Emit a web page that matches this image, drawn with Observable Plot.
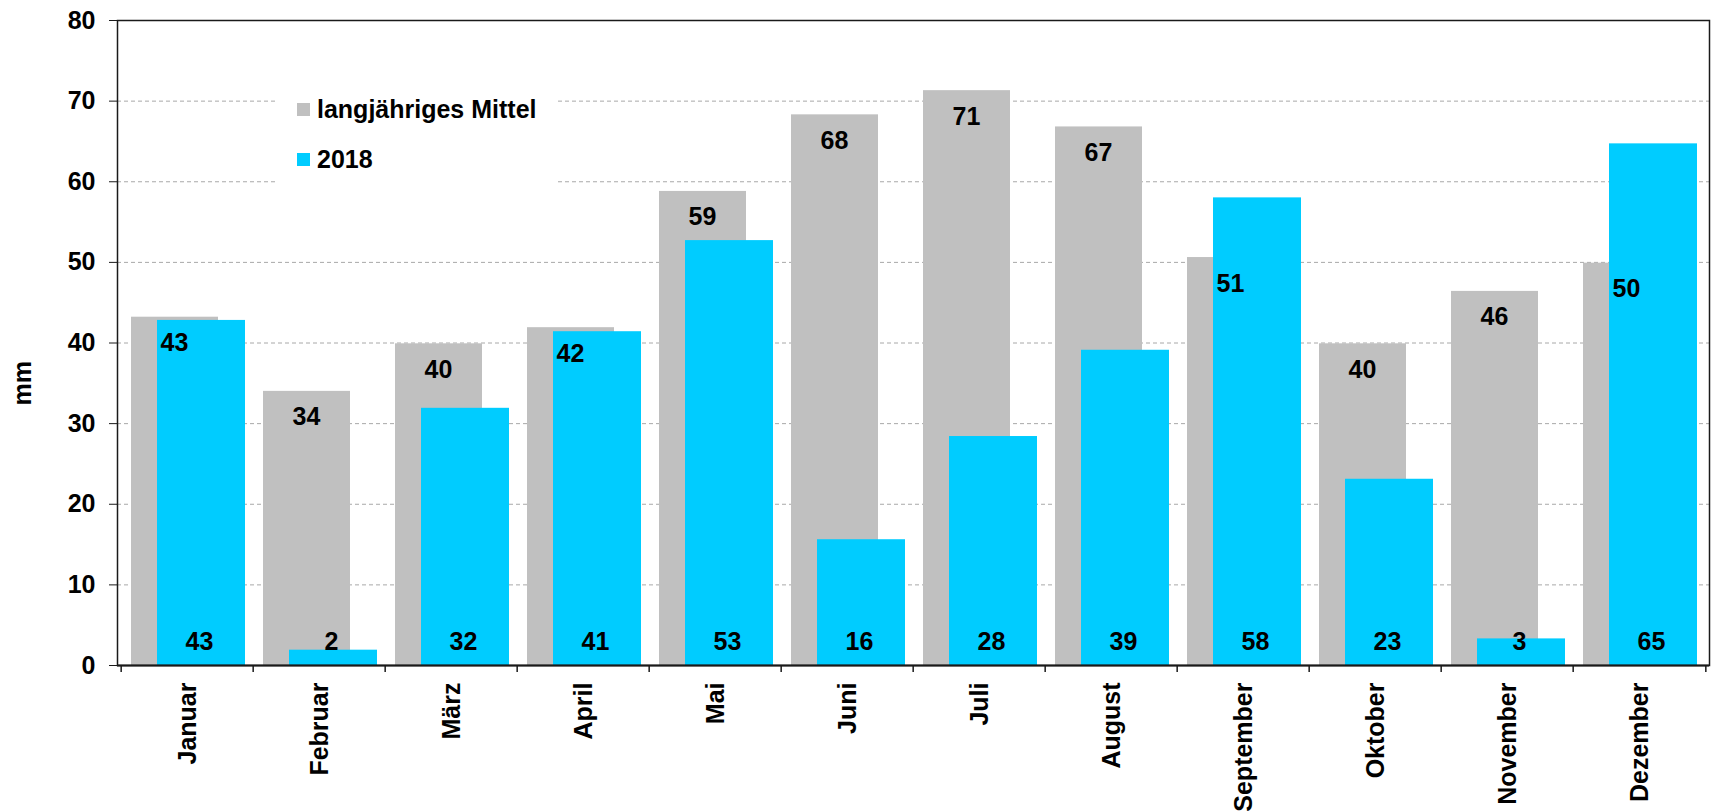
<!DOCTYPE html>
<html>
<head>
<meta charset="utf-8">
<script src="https://cdn.jsdelivr.net/npm/d3@7"></script>
<script src="https://cdn.jsdelivr.net/npm/@observablehq/plot@0.6"></script>
<style>
  html, body { margin: 0; padding: 0; background: #fff; }
  #wrap { position: relative; width: 1713px; height: 812px; font-family: "Liberation Sans", Arial, sans-serif; }
  #legend { position: absolute; left: 277px; top: 88px; width: 280px; height: 100px; background: #fff;
            font-family: "Liberation Sans", Arial, sans-serif; font-weight: bold; font-size: 25px; color: #000; }
  .item { position: absolute; left: 20px; height: 28px; display: flex; align-items: center; white-space: nowrap; }
  .sw { width: 13px; height: 13px; margin-right: 7px; flex: none; }
</style>
</head>
<body>
<div id="wrap"></div>
<script>
const months = ["Januar","Februar","März","April","Mai","Juni","Juli","August","September","Oktober","November","Dezember"];
const meanValues = [43.2, 34.0, 39.9, 41.9, 58.8, 68.3, 71.3, 66.8, 50.6, 39.9, 46.4, 49.9];
const values2018 = [42.8, 1.9, 31.9, 41.4, 52.7, 15.6, 28.4, 39.1, 58.0, 23.1, 3.3, 64.7];
const seriesNames = ["langjähriges Mittel", "2018"];
const seriesColors = ["#c0c0c0", "#00ccff"];
const yTicks = [0, 10, 20, 30, 40, 50, 60, 70, 80];
const gridTicks = [10, 20, 30, 40, 50, 60, 70];
const yLabel = "mm";

const meanData = months.map((m, i) => ({month: m, value: meanValues[i]}));
const data2018 = months.map((m, i) => ({month: m, value: values2018[i]}));

const W = 1713, H = 812, mL = 117, mR = 4, mT = 20, mB = 147;
const bw = (W - mL - mR) / months.length;
const font = "Liberation Sans, Arial, sans-serif";
const ink = "#1a1a1a";
const fs = 25;

const chart = Plot.plot({
  width: W, height: H,
  marginLeft: mL, marginRight: mR, marginTop: mT, marginBottom: mB,
  style: {fontFamily: font, fontSize: fs + "px", fontWeight: "bold", color: "#000", background: "#fff"},
  x: {type: "band", domain: months, padding: 0},
  y: {domain: [0, 80]},
  marks: [
    Plot.gridY(gridTicks, {stroke: "#a8a8a8", strokeOpacity: 1, strokeDasharray: "4,3", strokeWidth: 1}),
    Plot.barY(meanData, {x: "month", y: "value", fill: seriesColors[0], insetLeft: 10, insetRight: 35}),
    Plot.barY(data2018, {x: "month", y: "value", fill: seriesColors[1], insetLeft: 36, insetRight: 8}),
    Plot.text(meanData, {x: "month", y: "value", text: d => String(Math.round(d.value)),
      dx: -13, dy: 26, fontSize: fs, fontWeight: "bold", fontFamily: font, fill: "#000"}),
    Plot.text(data2018, {x: "month", y: 0, text: d => String(Math.round(d.value)),
      dx: 12, dy: -24, fontSize: fs, fontWeight: "bold", fontFamily: font, fill: "#000"}),
    Plot.frame({stroke: ink, strokeWidth: 1.5}),
    Plot.ruleY([0], {stroke: ink, strokeWidth: 2}),
    Plot.ruleX(months, {x: d => d, y1: 0, y2: 0, dx: -bw / 2, insetBottom: -7, stroke: ink, strokeWidth: 1.5}),
    Plot.ruleX([months[months.length - 1]], {x: d => d, y1: 0, y2: 0, dx: bw / 2, insetBottom: -7, stroke: ink, strokeWidth: 1.5}),
    Plot.axisY(yTicks, {tickSize: 8, tickPadding: 14, fontSize: fs, fontWeight: "bold", fontFamily: font, label: null, stroke: ink}),
    Plot.axisX({tickSize: 0, tickPadding: 17, tickRotate: -90, fontSize: fs, fontWeight: "bold", fontFamily: font, label: null}),
    Plot.text([yLabel], {frameAnchor: "left", rotate: -90, dx: -94.5, dy: 62.5, fontSize: fs, fontWeight: "bold", fontFamily: font, fill: "#000"})
  ]
});

const wrap = document.getElementById("wrap");
wrap.appendChild(chart);

const legend = document.createElement("div");
legend.id = "legend";
seriesNames.forEach((name, i) => {
  const item = document.createElement("div");
  item.className = "item";
  item.style.top = (7 + i * 50) + "px";
  const sw = document.createElement("span");
  sw.className = "sw";
  sw.style.background = seriesColors[i];
  const label = document.createElement("span");
  label.textContent = name;
  item.appendChild(sw);
  item.appendChild(label);
  legend.appendChild(item);
});
wrap.appendChild(legend);
</script>
</body>
</html>
